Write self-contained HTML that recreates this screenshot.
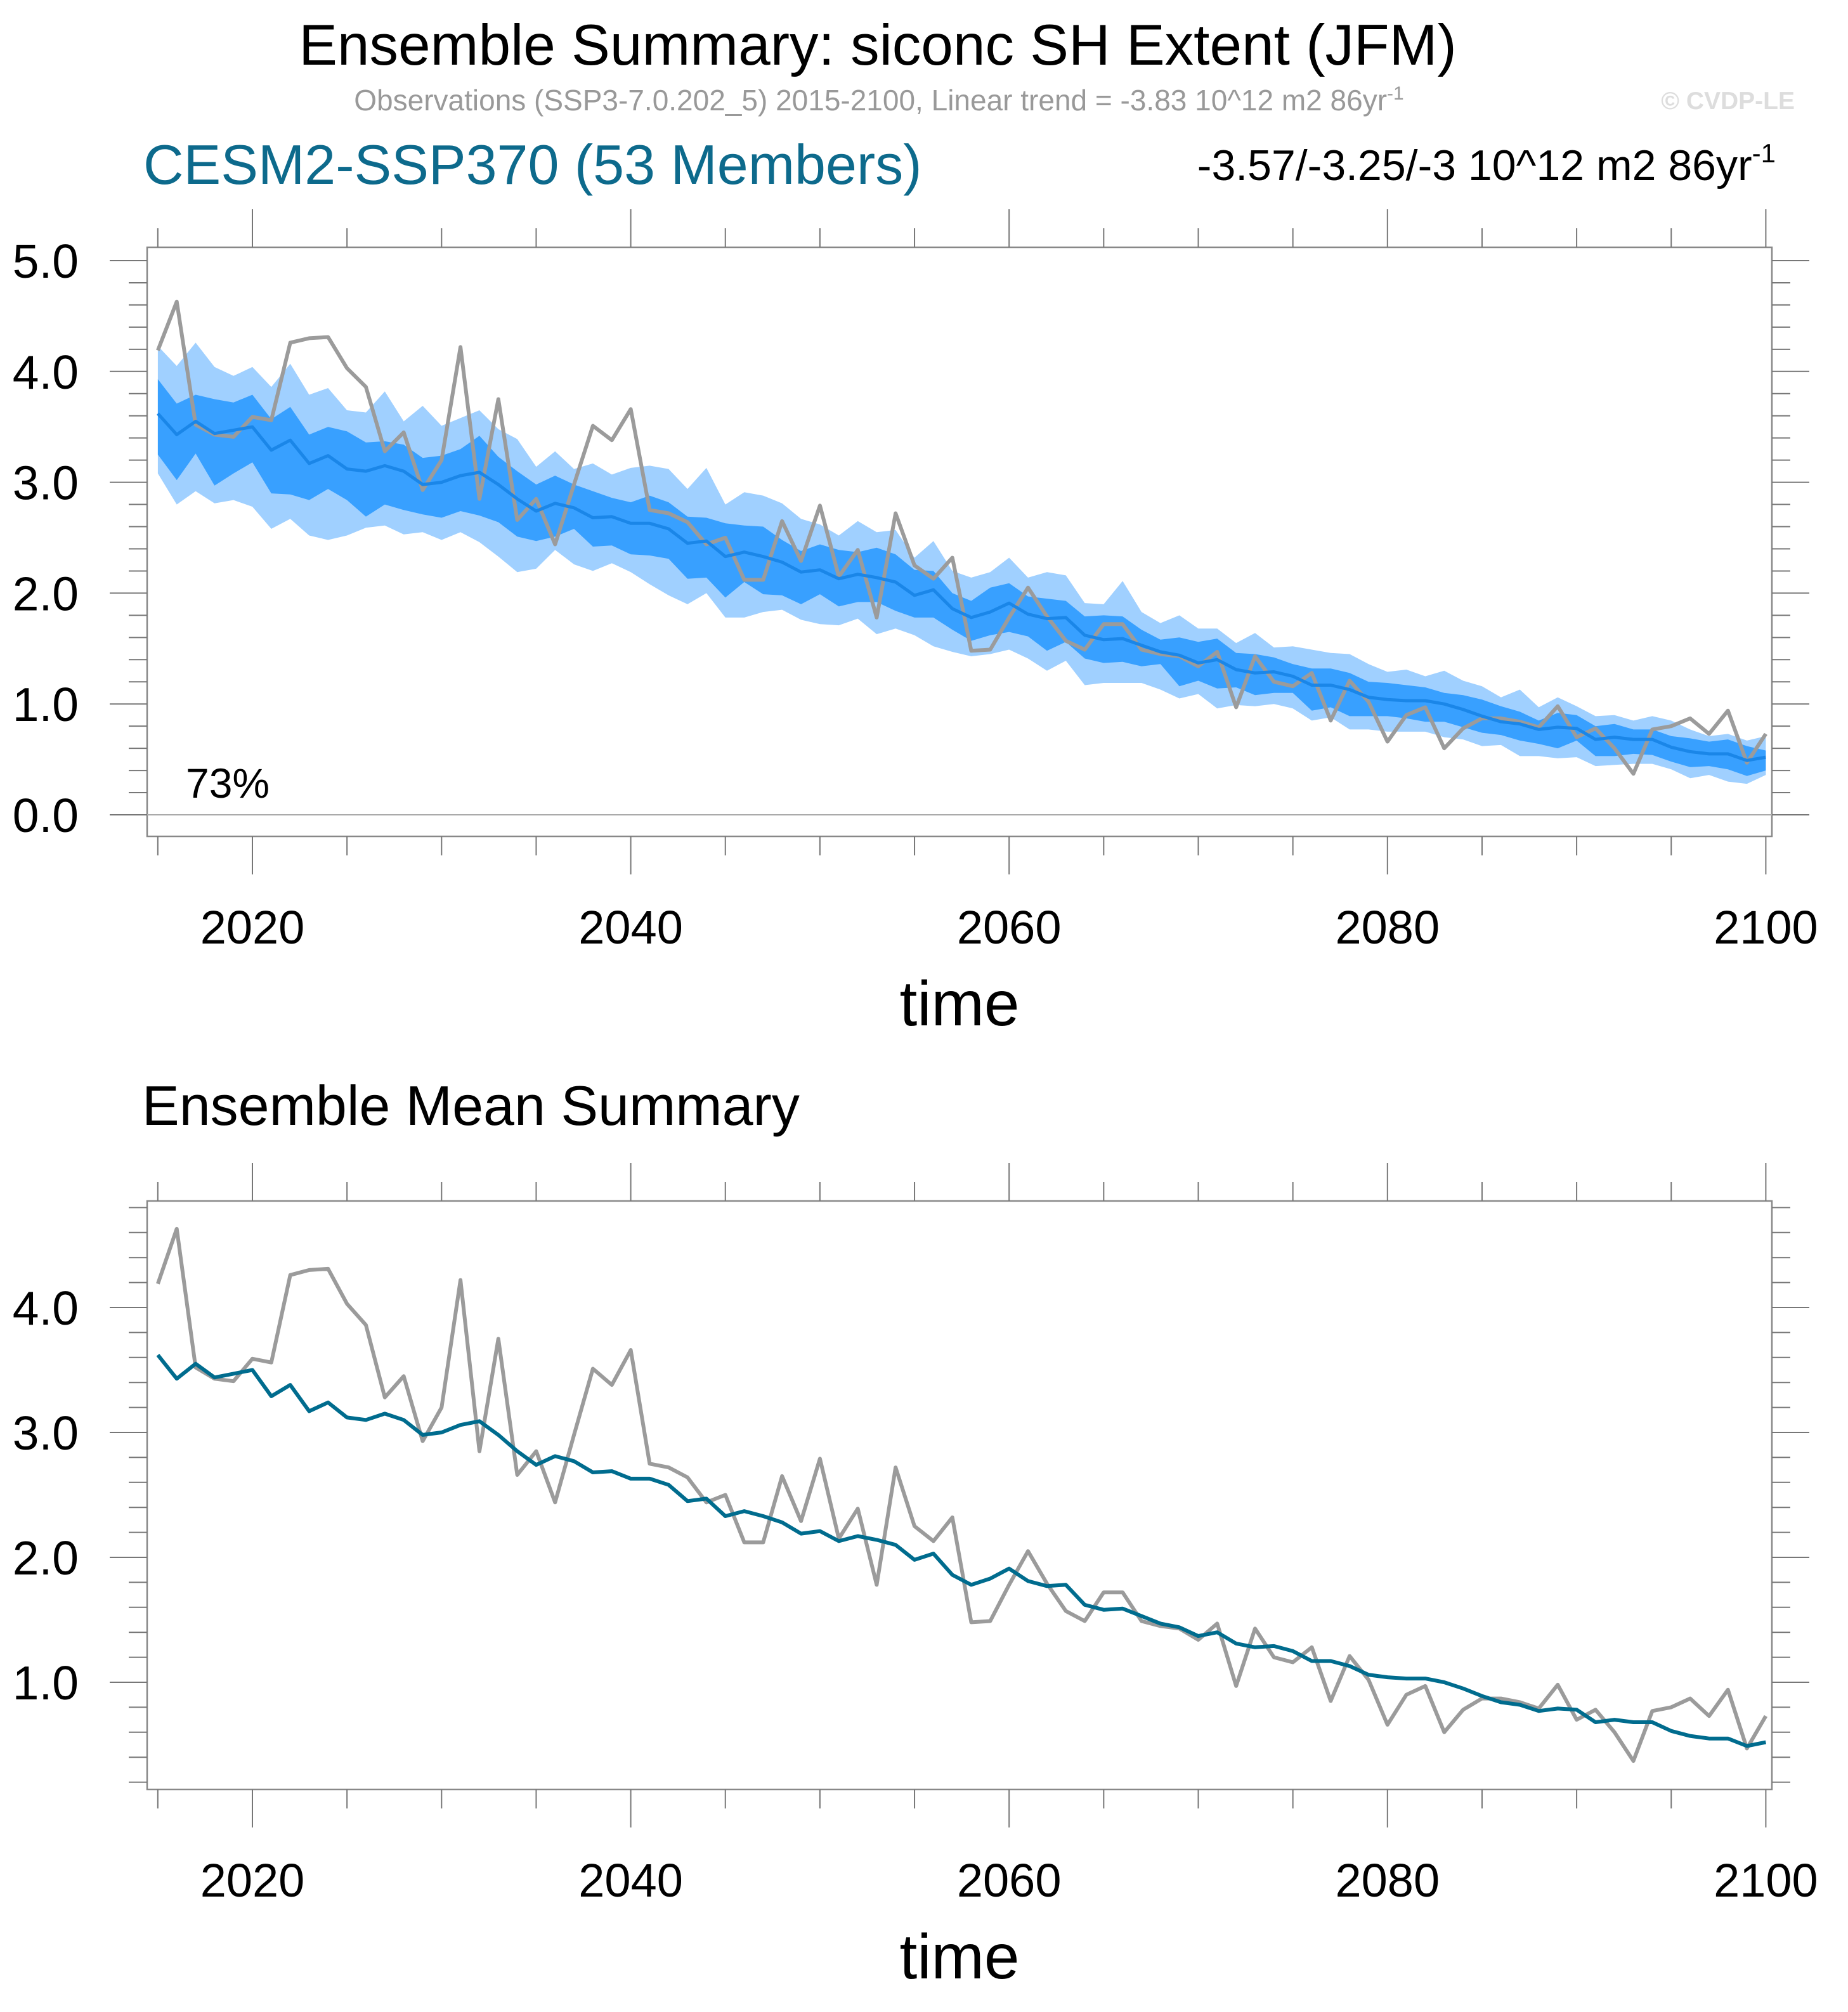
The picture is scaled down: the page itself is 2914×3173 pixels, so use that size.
<!DOCTYPE html>
<html><head><meta charset="utf-8"><style>
html,body{margin:0;padding:0;background:#fff;}
svg{display:block;font-family:"Liberation Sans",Arial,sans-serif;}
</style></head><body>
<svg id="chart" width="2914" height="3173" viewBox="0 0 2914 3173" xmlns="http://www.w3.org/2000/svg">
<rect width="2914" height="3173" fill="#fff"/>
<text x="1384" y="102" font-size="91" text-anchor="middle" fill="#000">Ensemble Summary: siconc SH Extent (JFM)</text>
<text x="1386" y="174" font-size="46" text-anchor="middle" fill="#999">Observations (SSP3-7.0.202_5) 2015-2100, Linear trend = -3.83 10^12 m2 86yr<tspan dy="-17" font-size="30">-1</tspan></text>
<text x="2830" y="172" font-size="39" font-weight="bold" text-anchor="end" fill="#ddd">© CVDP-LE</text>
<text x="226" y="290" font-size="88" fill="#0d6a8c">CESM2-SSP370 (53 Members)</text>
<text x="2800" y="284" font-size="68" text-anchor="end" fill="#000">-3.57/-3.25/-3 10^12 m2 86yr<tspan dy="-28" font-size="42">-1</tspan></text>
<text x="224" y="1774" font-size="88" fill="#000">Ensemble Mean Summary</text>
<g id="top"></g>
<g id="bot"></g>
</svg>
<script>
const years = [];
for (let y = 2015; y <= 2100; y++) years.push(y);
const obs = [4.19,4.63,3.52,3.43,3.41,3.59,3.56,4.26,4.30,4.31,4.03,3.86,3.28,3.45,2.93,3.20,4.22,2.85,3.75,2.66,2.85,2.44,2.98,3.51,3.38,3.66,2.75,2.72,2.64,2.44,
2.50,2.12,2.12,2.65,2.29,2.79,2.15,2.39,1.78,2.72,2.25,2.13,2.32,1.48,1.49,1.78,2.05,1.79,1.57,1.49,1.72,1.72,1.49,1.45,1.43,1.34,1.47,0.97,1.43,
1.20,1.16,1.28,0.85,1.21,1.02,0.66,0.90,0.97,0.60,0.78,0.87,0.87,0.84,0.79,0.98,0.70,0.78,0.60,0.37,0.77,0.80,0.87,0.73,0.94,0.47,0.73];
const ensMean = [3.62,3.43,3.55,3.44,3.47,3.50,3.29,3.38,3.17,3.24,3.12,3.10,3.15,3.10,2.98,3.00,3.06,3.09,2.98,2.85,2.74,2.81,2.77,2.68,2.69,2.63,2.63,2.58,2.45,2.47,
2.33,2.37,2.33,2.28,2.19,2.21,2.13,2.17,2.14,2.10,1.98,2.03,1.86,1.78,1.83,1.91,1.81,1.77,1.78,1.62,1.58,1.59,1.53,1.47,1.44,1.37,1.40,1.31,1.28,
1.29,1.25,1.17,1.17,1.13,1.06,1.04,1.03,1.03,1.00,0.95,0.89,0.84,0.82,0.77,0.79,0.78,0.68,0.70,0.68,0.68,0.61,0.57,0.55,0.55,0.49,0.52];
const outerMax = [4.23,4.05,4.26,4.04,3.96,4.04,3.86,4.07,3.79,3.85,3.65,3.63,3.82,3.55,3.69,3.51,3.58,3.65,3.48,3.39,3.14,3.28,3.12,3.17,3.07,3.13,3.15,3.12,2.94,3.13,
2.80,2.91,2.88,2.81,2.67,2.62,2.52,2.65,2.55,2.57,2.32,2.47,2.20,2.14,2.19,2.32,2.14,2.19,2.16,1.91,1.90,2.11,1.83,1.73,1.80,1.68,1.68,1.55,1.64,
1.51,1.52,1.49,1.46,1.45,1.36,1.29,1.31,1.25,1.30,1.21,1.16,1.06,1.13,0.97,1.06,0.98,0.89,0.90,0.85,0.89,0.85,0.77,0.71,0.73,0.67,0.71];
const innerMax = [3.93,3.71,3.79,3.75,3.72,3.79,3.57,3.68,3.43,3.50,3.46,3.36,3.37,3.34,3.22,3.24,3.30,3.42,3.23,3.10,2.98,3.06,2.98,2.92,2.86,2.82,2.88,2.82,2.69,2.68,
2.63,2.61,2.60,2.48,2.38,2.44,2.39,2.37,2.41,2.35,2.21,2.20,2.00,1.93,2.05,2.09,1.97,1.95,1.93,1.79,1.80,1.79,1.67,1.58,1.60,1.56,1.59,1.46,1.45,
1.42,1.36,1.32,1.32,1.28,1.20,1.19,1.17,1.15,1.10,1.08,1.04,0.98,0.93,0.85,0.92,0.90,0.80,0.82,0.77,0.77,0.71,0.69,0.66,0.68,0.62,0.58];
const innerMin = [3.25,3.02,3.26,2.97,3.08,3.18,2.90,2.89,2.84,2.94,2.84,2.69,2.80,2.75,2.71,2.68,2.74,2.70,2.64,2.51,2.47,2.51,2.58,2.42,2.43,2.35,2.34,2.31,2.13,2.14,
1.96,2.10,1.99,1.98,1.90,1.99,1.88,1.92,1.92,1.84,1.78,1.78,1.67,1.57,1.62,1.65,1.61,1.48,1.56,1.41,1.37,1.38,1.34,1.36,1.16,1.21,1.14,1.15,1.08,
1.10,1.10,0.94,0.97,0.89,0.89,0.89,0.87,0.84,0.84,0.79,0.74,0.72,0.67,0.64,0.60,0.67,0.53,0.53,0.55,0.54,0.48,0.43,0.44,0.41,0.35,0.40];
const outerMin = [3.08,2.80,2.92,2.81,2.84,2.78,2.58,2.67,2.52,2.48,2.52,2.59,2.61,2.53,2.55,2.48,2.55,2.46,2.33,2.19,2.22,2.39,2.26,2.20,2.27,2.19,2.08,1.98,1.90,2.00,
1.78,1.78,1.83,1.85,1.76,1.72,1.71,1.77,1.63,1.68,1.62,1.52,1.47,1.43,1.45,1.49,1.41,1.30,1.39,1.17,1.19,1.19,1.19,1.13,1.05,1.09,0.96,0.99,0.98,
1.00,0.96,0.85,0.88,0.77,0.77,0.75,0.75,0.75,0.70,0.68,0.62,0.63,0.53,0.53,0.51,0.52,0.44,0.45,0.46,0.46,0.41,0.33,0.36,0.30,0.28,0.36];
const xTickYears = [2020,2040,2060,2080,2100];
const xTickLabels = ["2020","2040","2060","2080","2100"];
const topYTicks = [0,1,2,3,4,5];
const topYLabels = ["0.0","1.0","2.0","3.0","4.0","5.0"];
const botYTicks = [1,2,3,4];
const botYLabels = ["1.0","2.0","3.0","4.0"];

const NS = "http://www.w3.org/2000/svg";
function mk(tag, attrs, parent) {
  const e = document.createElementNS(NS, tag);
  for (const k in attrs) e.setAttribute(k, attrs[k]);
  parent.appendChild(e);
  return e;
}
const L = 232, R = 2794;
function xs(yr) { return 398 + (yr - 2020) * 29.83; }

function panel(g, top, bottom, y0px, unit, vmin, vmax, yTicks, yLabels, showBands) {
  const ys = v => y0px - v * unit;
  if (showBands) {
    let d1 = "", d2 = "";
    years.forEach((yr, i) => { d1 += (i ? "L" : "M") + xs(yr).toFixed(1) + "," + ys(outerMax[i]).toFixed(1); });
    for (let i = years.length - 1; i >= 0; i--) d1 += "L" + xs(years[i]).toFixed(1) + "," + ys(outerMin[i]).toFixed(1);
    const b1 = mk("path", {d: d1 + "Z", fill: "#a0d0ff"}, g);
    
    
    years.forEach((yr, i) => { d2 += (i ? "L" : "M") + xs(yr).toFixed(1) + "," + ys(innerMax[i]).toFixed(1); });
    for (let i = years.length - 1; i >= 0; i--) d2 += "L" + xs(years[i]).toFixed(1) + "," + ys(innerMin[i]).toFixed(1);
    const b2 = mk("path", {d: d2 + "Z", fill: "#38a0ff"}, g);
    
    
  }
  const fr = mk("rect", {x: L, y: top, width: R - L, height: bottom - top, fill: "none", stroke: "#888", "stroke-width": 2.5}, g);
  
  
  if (showBands) {
    const zl = mk("line", {x1: L, x2: R, y1: ys(0), y2: ys(0), stroke: "#aaa", "stroke-width": 2}, g);
    
    
  }
  for (let v = Math.ceil(vmin * 5) / 5; v <= vmax + 1e-6; v += 0.2) {
    const major = Math.abs(v - Math.round(v)) < 1e-6;
    const len = major ? 59 : 29;
    const y = ys(v);
    const t1 = mk("line", {x1: L - len, x2: L, y1: y, y2: y, stroke: "#777", "stroke-width": 2}, g);
    
    
    const t2 = mk("line", {x1: R, x2: R + len, y1: y, y2: y, stroke: "#777", "stroke-width": 2}, g);
    
    
  }
  yTicks.forEach((v, i) => {
    const t = mk("text", {x: 124, y: ys(v) + 27, "font-size": 75, "text-anchor": "end", fill: "#000"}, g);
    
    
    t.textContent = yLabels[i];
  });
  for (let yr = 2015; yr <= 2100; yr += 5) {
    const major = yr % 20 === 0;
    const len = major ? 60 : 30;
    const x = xs(yr);
    const a = mk("line", {x1: x, x2: x, y1: bottom, y2: bottom + len, stroke: "#777", "stroke-width": 2}, g);
    
    
    const b = mk("line", {x1: x, x2: x, y1: top - len, y2: top, stroke: "#777", "stroke-width": 2}, g);
    
    
  }
  xTickYears.forEach((yr, i) => {
    const t = mk("text", {x: xs(yr), y: bottom + 169, "font-size": 74, "text-anchor": "middle", fill: "#000"}, g);
    
    
    t.textContent = xTickLabels[i];
  });
  const xt = mk("text", {x: 1513, y: bottom + 298, "font-size": 100, "text-anchor": "middle", fill: "#000"}, g);
  
  
  xt.textContent = "time";
  const pts = arr => years.map((yr, i) => xs(yr).toFixed(1) + "," + ys(arr[i]).toFixed(1)).join(" ");
  const ol = mk("polyline", {points: pts(obs), fill: "none", stroke: "#9b9b9b", "stroke-width": 6, "stroke-linejoin": "round"}, g);
  
  
  const ml = mk("polyline", {points: pts(ensMean), fill: "none", stroke: showBands ? "#1a86e8" : "#006c8e", "stroke-width": showBands ? 5 : 6, "stroke-linejoin": "round"}, g);
  
  
}
const gt = document.getElementById("top");
panel(gt, 390, 1319, 1285, 174.8, -0.19, 5.12, topYTicks, topYLabels, true);
const pc = mk("text", {x: 293, y: 1258, "font-size": 66, fill: "#000"}, gt);


pc.textContent = "73%";
const gb = document.getElementById("bot");
panel(gb, 1894, 2822, 2653 + 197, 197, 0.14, 4.85, botYTicks, botYLabels, false);
</script>
</body></html>
